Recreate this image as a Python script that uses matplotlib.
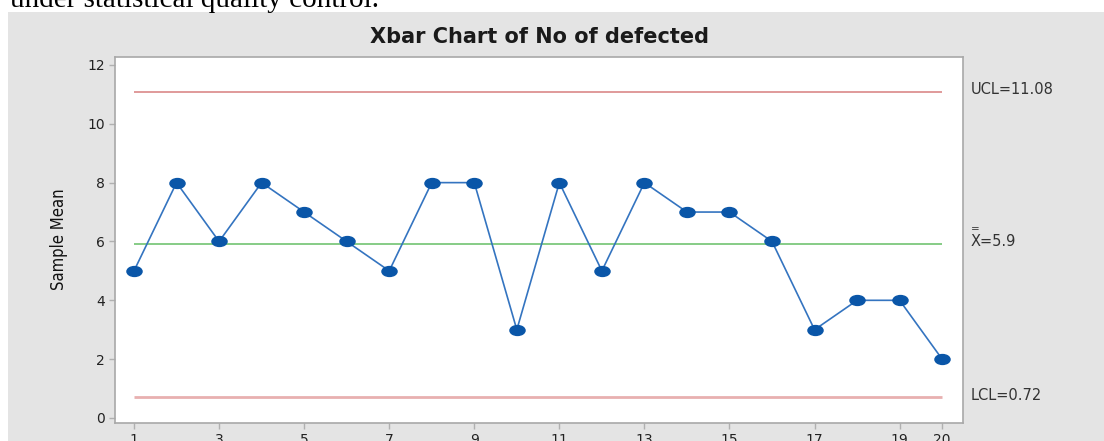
import matplotlib.pyplot as plt
from matplotlib.patches import Rectangle
from matplotlib.markers import MarkerStyle
from matplotlib.transforms import Affine2D

# data
samples = list(range(1, 21))
means = [5, 8, 6, 8, 7, 6, 5, 8, 8, 3, 8, 5, 8, 7, 7, 6, 3, 4, 4, 2]
ucl = 11.08
lcl = 0.72
center = 5.9
xticks = [1, 3, 5, 7, 9, 11, 13, 15, 17, 19, 20]
yticks = [0, 2, 4, 6, 8, 10, 12]

W, H = 1104, 441
dpi = 100
fig = plt.figure(figsize=(W / dpi, H / dpi), dpi=dpi)
fig.patch.set_facecolor('white')

# gray minitab panel
panel = Rectangle((8 / W, 0), 1 - 8 / W, 1 - 12 / H, transform=fig.transFigure,
                  facecolor='#e4e4e4', edgecolor='none', zorder=-5)
fig.add_artist(panel)

# cut off document text above the chart
fig.text(10 / W, 1 - 7 / H, "under statistical quality control.", family='Liberation Serif',
         fontsize=21, va='baseline', ha='left', color='black')

left, right, top, bottom = 115, 963, 57, 423
ax = fig.add_axes([left / W, 1 - bottom / H, (right - left) / W, (bottom - top) / H])
ax.set_zorder(2)
ax.set_facecolor('white')

# flattened dot marker like minitab
dot = MarkerStyle('o', transform=Affine2D().scale(1.45, 0.95))
ax.plot(samples, means, color='#3474c0', lw=1.2, marker=dot, markersize=7.5,
        markerfacecolor='#0a56a8', markeredgecolor='#0a56a8', zorder=3)
ax.hlines(ucl, samples[0], samples[-1], color='#e09a9a', lw=1.4, zorder=2)
ax.hlines(lcl, samples[0], samples[-1], color='#e8b0b0', lw=2.0, zorder=2)
ax.hlines(center, samples[0], samples[-1], color='#86cc86', lw=1.4, zorder=2)

ax.set_xlim(0.553, 20.49)
ax.set_ylim(-0.17, 12.27)
ax.set_xticks(xticks)
ax.set_yticks(yticks)
ax.tick_params(colors='#b0b0b0', labelcolor='#222222', labelsize=10, length=4, width=1)
for s in ax.spines.values():
    s.set_color('#a8a8a8')
    s.set_linewidth(1.2)

ax.set_title("Xbar Chart of No of defected", fontsize=15, fontweight='bold', color='#1a1a1a', pad=10)
fig.text(59 / W, 1 - 239 / H, "Sample Mean", rotation=90, ha='center', va='center',
         fontsize=12, family=['Liberation Sans Narrow', 'DejaVu Sans'], fontstretch='condensed',
         color='#111111')

lab_x = 971 / W
fig.text(lab_x, 1 - 90 / H, "UCL=11.08", fontsize=10.5, color='#333333', va='center', ha='left')
fig.text(lab_x, 1 - 241 / H, "X=5.9", fontsize=10.5, color='#333333', va='center', ha='left')
fig.text(lab_x, 1 - 229 / H, "=", fontsize=7.5, color='#333333', va='center', ha='left')
fig.text(lab_x, 1 - 396 / H, "LCL=0.72", fontsize=10.5, color='#333333', va='center', ha='left')

fig.savefig('out.png', dpi=dpi)
